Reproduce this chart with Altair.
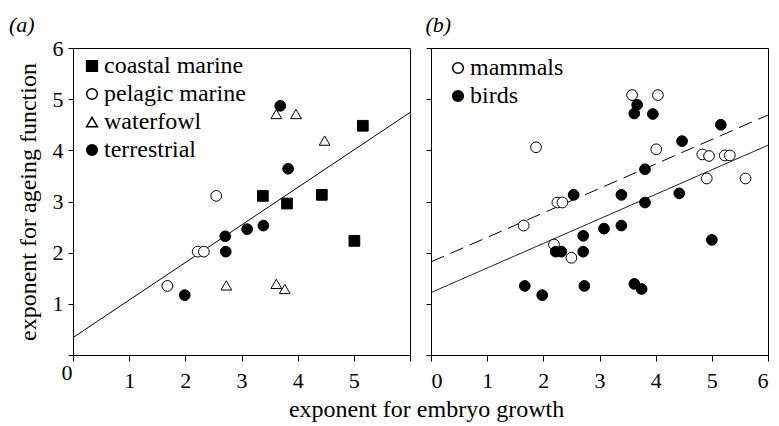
import altair as alt
import pandas as pd

FONT = "Liberation Serif"
FS = 22

# ---- panel (a): four groups ----
groups_a = ["coastal marine", "pelagic marine", "waterfowl", "terrestrial"]
coastal_x = [3.38, 3.81, 4.43, 5.01, 5.16]
coastal_y = [3.11, 2.96, 3.13, 2.23, 4.48]
pelagic_x = [1.68, 2.22, 2.33, 2.55]
pelagic_y = [1.35, 2.02, 2.02, 3.11]
waterfowl_x = [2.73, 3.62, 3.97, 4.48, 3.62, 3.77]
waterfowl_y = [1.36, 4.71, 4.71, 4.19, 1.39, 1.29]
terrestrial_x = [1.99, 2.71, 2.72, 3.10, 3.39, 3.69, 3.83]
terrestrial_y = [1.17, 2.32, 2.02, 2.46, 2.53, 4.87, 3.64]

# ---- panel (b): mammals and birds ----
groups_b = ["mammals", "birds"]
mammal_x = [1.65, 1.87, 2.19, 2.25, 2.34, 2.50, 3.58, 4.04, 4.01, 4.83, 4.95, 4.91, 5.23, 5.32, 5.60]
mammal_y = [2.53, 4.06, 2.16, 2.98, 2.98, 1.90, 5.08, 5.08, 4.02, 3.92, 3.89, 3.45, 3.90, 3.90, 3.45]
bird_x = [1.67, 1.98, 2.22, 2.32, 2.54, 2.71, 2.71, 2.73, 3.08, 3.39, 3.39, 3.62, 3.67, 3.95,
          3.62, 3.75, 3.81, 3.81, 4.42, 4.47, 5.00, 5.16]
bird_y = [1.35, 1.17, 2.02, 2.02, 3.13, 2.33, 2.02, 1.35, 2.47, 3.13, 2.53, 4.72, 4.89, 4.71,
          1.39, 1.29, 3.63, 2.98, 3.16, 4.18, 2.25, 4.50]

# ---- fitted lines (end points read at x = 0 and x = 6) ----
line_x = [0, 6]
fit_a_y = [0.34, 4.74]
fit_b_solid_y = [1.22, 4.10]
fit_b_dashed_y = [1.82, 4.69]

tick_values = [0, 1, 2, 3, 4, 5, 6]

rows_a = []
for name, xs, ys in [("coastal marine", coastal_x, coastal_y),
                     ("pelagic marine", pelagic_x, pelagic_y),
                     ("waterfowl", waterfowl_x, waterfowl_y),
                     ("terrestrial", terrestrial_x, terrestrial_y)]:
    for x, y in zip(xs, ys):
        rows_a.append({"group": name, "x": x, "y": y})
df_a = pd.DataFrame(rows_a)

rows_b = []
for name, xs, ys in [("mammals", mammal_x, mammal_y), ("birds", bird_x, bird_y)]:
    for x, y in zip(xs, ys):
        rows_b.append({"group": name, "x": x, "y": y})
df_b = pd.DataFrame(rows_b)

df_line_a = pd.DataFrame({"x": line_x, "y": fit_a_y})
df_line_b = pd.DataFrame({"x": line_x * 2, "y": fit_b_solid_y + fit_b_dashed_y,
                          "fit": ["solid", "solid", "dashed", "dashed"]})

xscale = alt.Scale(domain=[0, 6], nice=False, zero=False)
yscale = alt.Scale(domain=[0, 6], nice=False, zero=False)

W, H = 337, 307

x_axis_a = alt.Axis(values=tick_values, title=None, format="d", tickSize=6,
                    labelExpr="datum.value == 6 ? '' : datum.label",
                    labelOffset={"condition": {"test": "datum.value == 0", "value": -12}, "value": 0},
                    labelPadding={"condition": {"test": "datum.value == 0", "value": 1}, "value": 9})
y_axis_a = alt.Axis(values=tick_values, title="exponent for ageing function", format="d",
                    labelExpr="datum.value == 0 ? '' : datum.label", titlePadding=12,
                    tickSize=5, labelPadding=5, titleFontSize=24)
x_axis_b = alt.Axis(values=tick_values, title=None, format="d", tickSize=6, labelPadding=9)
y_axis_b = alt.Axis(values=tick_values, title=None, labels=False, tickSize=5, labelPadding=5)


def legend(x, y):
    return alt.Legend(title=None, orient="none", legendX=x, legendY=y,
                      labelFont=FONT, labelFontSize=24, labelColor="black",
                      symbolSize=115, rowPadding=4, labelOffset=0)


leg_a = legend(7, 6)
pts_a = alt.Chart(df_a).mark_point(filled=True, size=115, strokeWidth=1, opacity=1).encode(
    x=alt.X("x:Q", scale=xscale, axis=x_axis_a),
    y=alt.Y("y:Q", scale=yscale, axis=y_axis_a),
    shape=alt.Shape("group:N", scale=alt.Scale(domain=groups_a,
                    range=["square", "circle", "triangle-up", "circle"]), legend=leg_a),
    fill=alt.Fill("group:N", scale=alt.Scale(domain=groups_a,
                  range=["black", "white", "white", "black"]), legend=leg_a),
    stroke=alt.value("black"),
)
line_a = alt.Chart(df_line_a).mark_line(color="black", strokeWidth=1).encode(
    x=alt.X("x:Q", scale=xscale), y=alt.Y("y:Q", scale=yscale))

panel_a = alt.layer(line_a, pts_a).properties(
    width=W, height=H,
    title=alt.TitleParams("(a)", anchor="start", frame="bounds", font=FONT, fontSize=FS,
                          fontStyle="italic", fontWeight="normal", offset=0, dx=-7, color="black"))

leg_b = legend(15, 8)
pts_b = alt.Chart(df_b).mark_point(filled=True, size=115, strokeWidth=1, opacity=1).encode(
    x=alt.X("x:Q", scale=xscale, axis=x_axis_b),
    y=alt.Y("y:Q", scale=yscale, axis=y_axis_b),
    shape=alt.Shape("group:N", scale=alt.Scale(domain=groups_b, range=["circle", "circle"]), legend=leg_b),
    fill=alt.Fill("group:N", scale=alt.Scale(domain=groups_b, range=["white", "black"]), legend=leg_b),
    stroke=alt.value("black"),
    order=alt.Order("order:Q"),
).transform_calculate(order="datum.group == 'birds' ? 1 : 0")
line_b = alt.Chart(df_line_b).mark_line(color="black", strokeWidth=1).encode(
    x=alt.X("x:Q", scale=xscale), y=alt.Y("y:Q", scale=yscale),
    detail="fit:N",
    strokeDash=alt.StrokeDash("fit:N", scale=alt.Scale(domain=["solid", "dashed"],
                              range=[[1, 0], [14, 7]]), legend=None),
)

panel_b = alt.layer(line_b, pts_b).properties(
    width=W, height=H,
    title=alt.TitleParams("(b)", anchor="start", frame="bounds", font=FONT, fontSize=FS,
                          fontStyle="italic", fontWeight="normal", offset=11, dx=0, color="black"))

chart = alt.hconcat(panel_a, panel_b, spacing=12).resolve_scale(shape="independent", fill="independent").properties(
    title=alt.TitleParams("exponent for embryo growth", orient="bottom", anchor="middle",
                          font=FONT, fontSize=24, fontWeight="normal", color="black", offset=6, dx=37),
    padding={"left": 8, "top": 13, "right": 0, "bottom": 0},
    background="white",
).configure(font=FONT).configure_view(stroke="black", strokeWidth=1).configure_axis(
    labelFont=FONT, labelFontSize=FS, labelColor="black", titleFont=FONT, titleFontSize=FS,
    titleFontWeight="normal", titleColor="black", domainColor="black", tickColor="black",
    grid=False,
).configure_legend(labelFont=FONT, labelFontSize=24, labelColor="black")

chart.save("out.html", embed_options={"renderer": "svg", "actions": False})
